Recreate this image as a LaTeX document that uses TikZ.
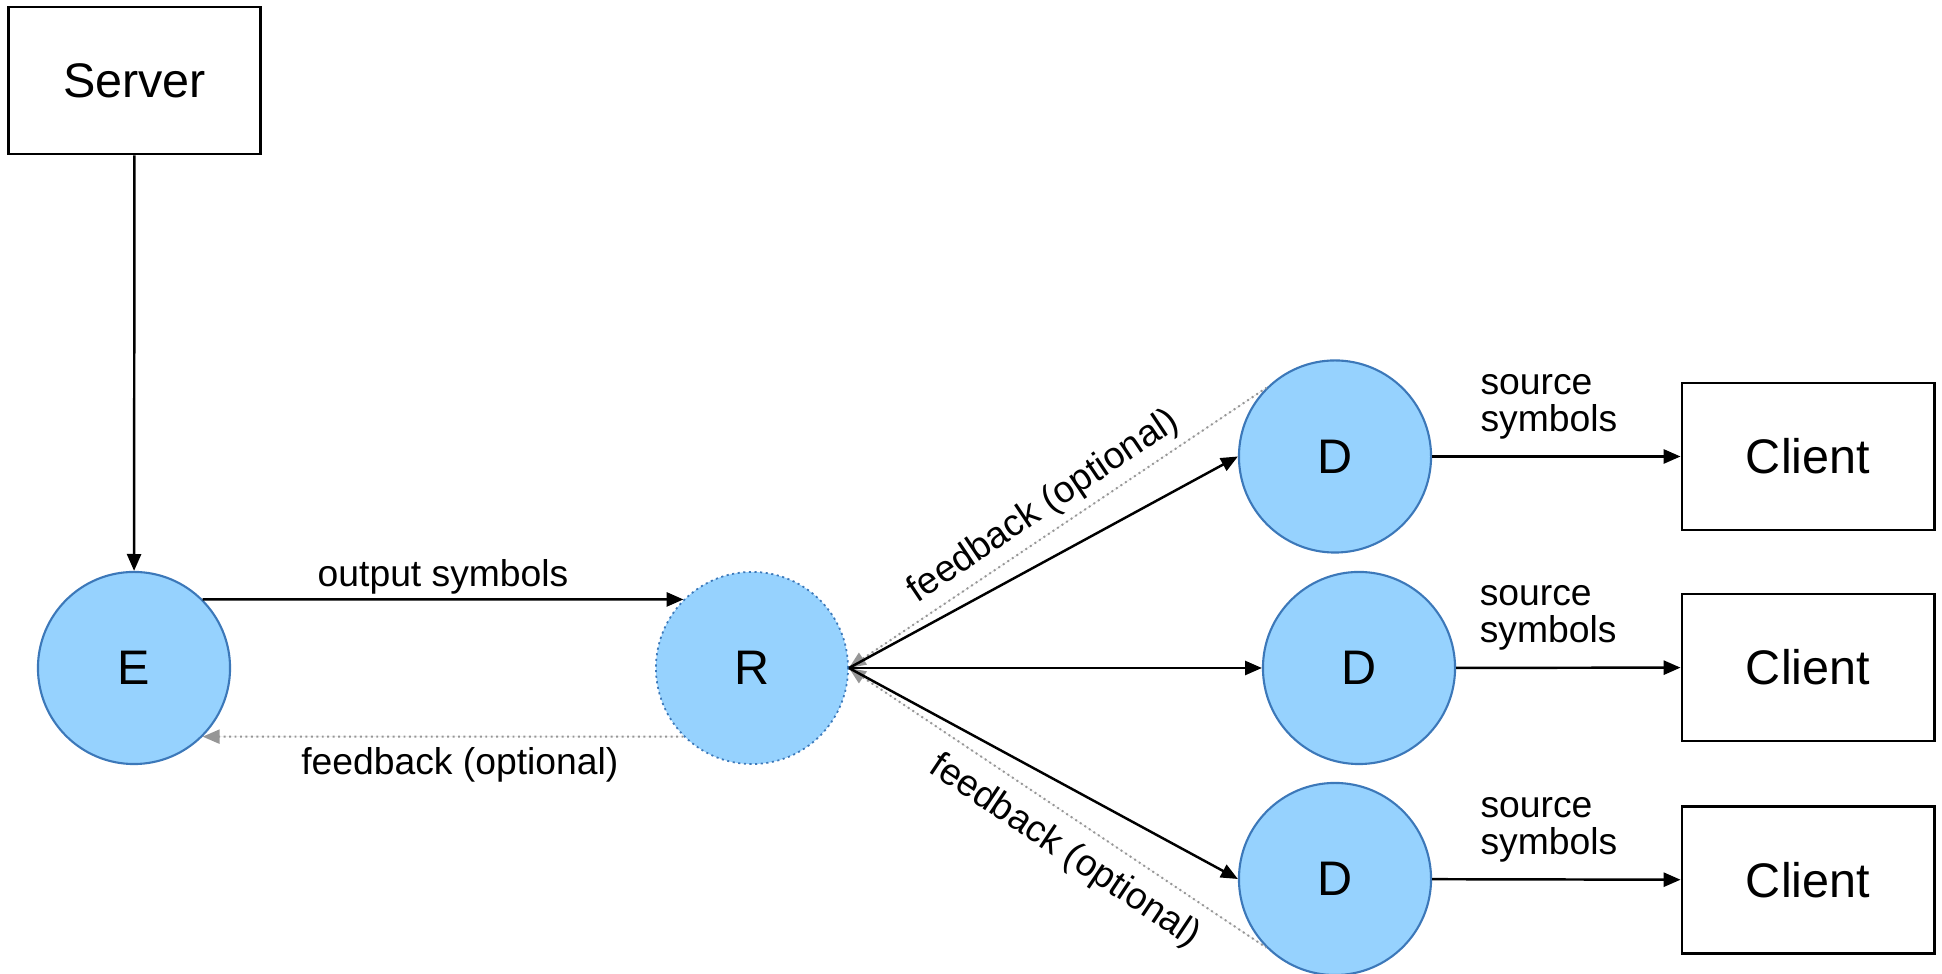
\documentclass[tikz,border=0pt]{standalone}
\usepackage{fontspec}
\setmainfont{Liberation Sans}
\usetikzlibrary{arrows.meta}
\definecolor{blobfill}{RGB}{150,210,254}
\definecolor{blobline}{RGB}{60,120,185}
\definecolor{fbgray}{RGB}{150,150,150}
\tikzset{
  blob/.style={circle, minimum size=1.92cm, inner sep=0pt, fill=blobfill, draw=blobline, line width=0.6pt, font=\fontsize{13.8}{16}\selectfont},
  host/.style={rectangle, minimum width=2.52cm, minimum height=1.47cm, draw=black, line width=0.8pt, font=\fontsize{13.8}{16}\selectfont},
  lbl/.style={font=\fontsize{10.6}{10.7}\selectfont, inner sep=1pt, align=left},
  fwd/.style={->, line width=0.7pt},
  fb/.style={->, draw=fbgray, line width=0.55pt, densely dotted}
}
\begin{document}
\begin{tikzpicture}[x=0.01cm, y=-0.01cm, >={Triangle[length=4.8pt,width=4pt]}]
\useasboundingbox (0,0) rectangle (1942,974);
\node (srv) at (134.5,80.5) [host] {Server};
\node (E) at (134,668) [blob] {E};
\node (R) at (752,668) [blob, densely dotted, line width=0.5pt] {R};
\node (d1) at (1335,456.5) [blob] {D};
\node (d2) at (1359,668) [blob] {D};
\node (d3) at (1335,879) [blob] {D};
\node (c1) at (1808,456.5) [host] {Client};
\node (c2) at (1808,667.5) [host] {Client};
\node (c3) at (1808,880) [host] {Client};
\draw[fwd] (srv) -- (E);
\draw[fwd] (E.45) -- (R.135) node[midway, above, lbl] {output symbols};
\draw[fb, fill=fbgray] (R.225) -- (E.-45) node[pos=0.465, below=1.8pt, lbl] {feedback (optional)};
\draw[fb, fill=fbgray, <-] (R.east) -- (d1.135) node[midway, above=1pt, sloped, lbl] {feedback (optional)};
\draw[fb, fill=fbgray, <-] (R.east) -- (d3.225) node[pos=0.56, below=3pt, sloped, lbl] {feedback (optional)};
\draw[fwd] (R.east) -- (d1.west);
\draw[fwd] (R.east) -- (d2.west);
\draw[fwd] (R.east) -- (d3.west);
\draw[fwd] (d1) -- (c1) node[pos=0.47, above=3.5pt, lbl] {source\\symbols};
\draw[fwd] (d2) -- (c2) node[pos=0.41, above=3.5pt, lbl] {source\\symbols};
\draw[fwd] (d3) -- (c3) node[pos=0.47, above=3.5pt, lbl] {source\\symbols};
\end{tikzpicture}
\end{document}
